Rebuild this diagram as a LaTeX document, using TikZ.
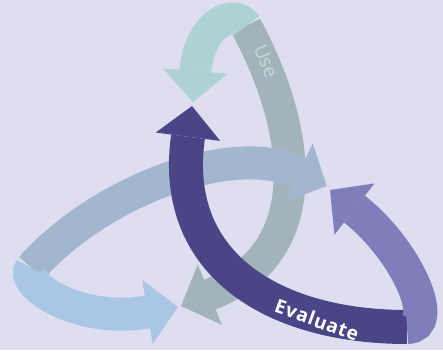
\documentclass[tikz,border=0pt]{standalone}
\usepackage{fontspec}
\usepackage{tikz}
\usetikzlibrary{arrows.meta}
\newfontfamily\cyclefont{Open Sans}
\newfontfamily\cyclewidefont{Open Sans}[LetterSpace=4]
\definecolor{backdrop}{HTML}{DFDEF0}
\definecolor{useteal}{HTML}{AED2D3}
\definecolor{usegrey}{HTML}{A2B4B9}
\definecolor{usetext}{HTML}{CAD7DB}
\definecolor{loopsteel}{HTML}{A2B6CF}
\definecolor{loopsky}{HTML}{A9C6E4}
\definecolor{evaldark}{HTML}{4A4587}
\definecolor{evallight}{HTML}{7F7DBA}
\tikzset{
  ribbon/.style={line width=#1, -{Triangle[width=65pt,length=31pt,line width=0pt]}},
  ribbon/.default=32pt
}
\begin{document}
\begin{tikzpicture}[x=1pt,y=-1pt]
    \fill[backdrop] (0,0) rectangle (443,350);
    \useasboundingbox (0,0) rectangle (443,350);

    % Use loop (split at the top)
    \coordinate (usesplit) at (246,26);
    \coordinate (usebase) at (212.5,293.5);
    \coordinate (usetip) at (181,306);
    \coordinate (tealbase) at (195.5,70);
    \coordinate (tealtip) at (193,102);
    \draw[usegrey, ribbon] (usesplit) .. controls (307,140) and (311.5,254) .. (usebase) -- (usetip);
    \draw[useteal, ribbon] (usesplit) .. controls (236,8) and (200,22) .. (tealbase) -- (tealtip);
    \node[text=usetext, font=\cyclefont\fontsize{19}{19}\selectfont, rotate=-67] (uselabel) at (266,61) {Use};

    % Blue loop (split on the left)
    \coordinate (bluesplit) at (31.5,268);
    \coordinate (steelbase) at (297.5,172);
    \coordinate (steeltip) at (326.7,186);
    \coordinate (skybase) at (144,312.5);
    \coordinate (skytip) at (178,307);
    \draw[loopsteel, ribbon=33pt] (bluesplit) .. controls (97.5,193) and (230,141) .. (steelbase) -- (steeltip);
    \draw[loopsky, ribbon=33pt] (bluesplit) .. controls (18.3,283) and (76,323) .. (skybase) -- (skytip);

    % Evaluate loop (split at the bottom right)
    \coordinate (evalsplit) at (407,327);
    \coordinate (darkbase) at (187.7,139);
    \coordinate (darktip) at (192,106);
    \coordinate (lightbase) at (355,209.5);
    \coordinate (lighttip) at (330,190);
    \draw[evaldark, ribbon=34pt] (evalsplit) .. controls (277,327) and (171,267) .. (darkbase) -- (darktip);
    \draw[evallight, ribbon=34pt] (evalsplit) .. controls (440,327) and (408,252) .. (lightbase) -- (lighttip);
    \node[text=white, font=\cyclewidefont\bfseries\fontsize{19}{19}\selectfont, rotate=-20] (evallabel) at (317,320) {Evaluate};
\end{tikzpicture}
\end{document}
